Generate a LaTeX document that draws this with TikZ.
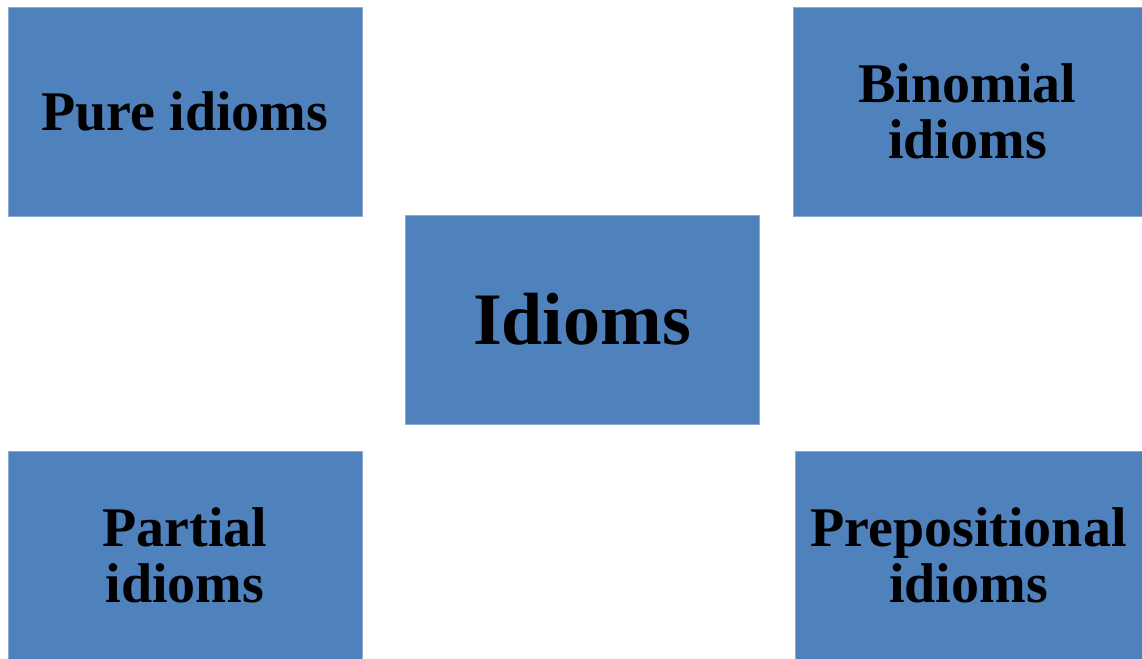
\documentclass[tikz,border=0pt]{standalone}
\usepackage{fontspec}
\setmainfont{Liberation Serif}
\definecolor{boxblue}{RGB}{79,129,189}
\definecolor{boxedge}{RGB}{140,170,210}
\begin{document}
\begin{tikzpicture}[x=1pt,y=-1pt,
  card/.style={fill=boxblue, draw=boxedge, line width=0.6pt, inner sep=0pt,
    minimum height=209pt, align=center, text=black,
    font=\bfseries\fontsize{56}{56}\selectfont}]
  \useasboundingbox (0,0) rectangle (1142,658);
  \node[card, minimum width=354pt] (pure) at (185,111.5) {Pure idioms};
  \node[card, minimum width=349pt] (binomial) at (967.5,111.5) {Binomial\\idioms};
  \node[card, minimum width=354pt, font=\bfseries\fontsize{74}{74}\selectfont] (idioms) at (582,319.5) {Idioms};
  \node[card, minimum width=354pt] (partial) at (185,555.5) {Partial\\idioms};
  \node[card, minimum width=347pt] (prep) at (968.5,555.5) {Prepositional\\idioms};
\end{tikzpicture}
\end{document}
